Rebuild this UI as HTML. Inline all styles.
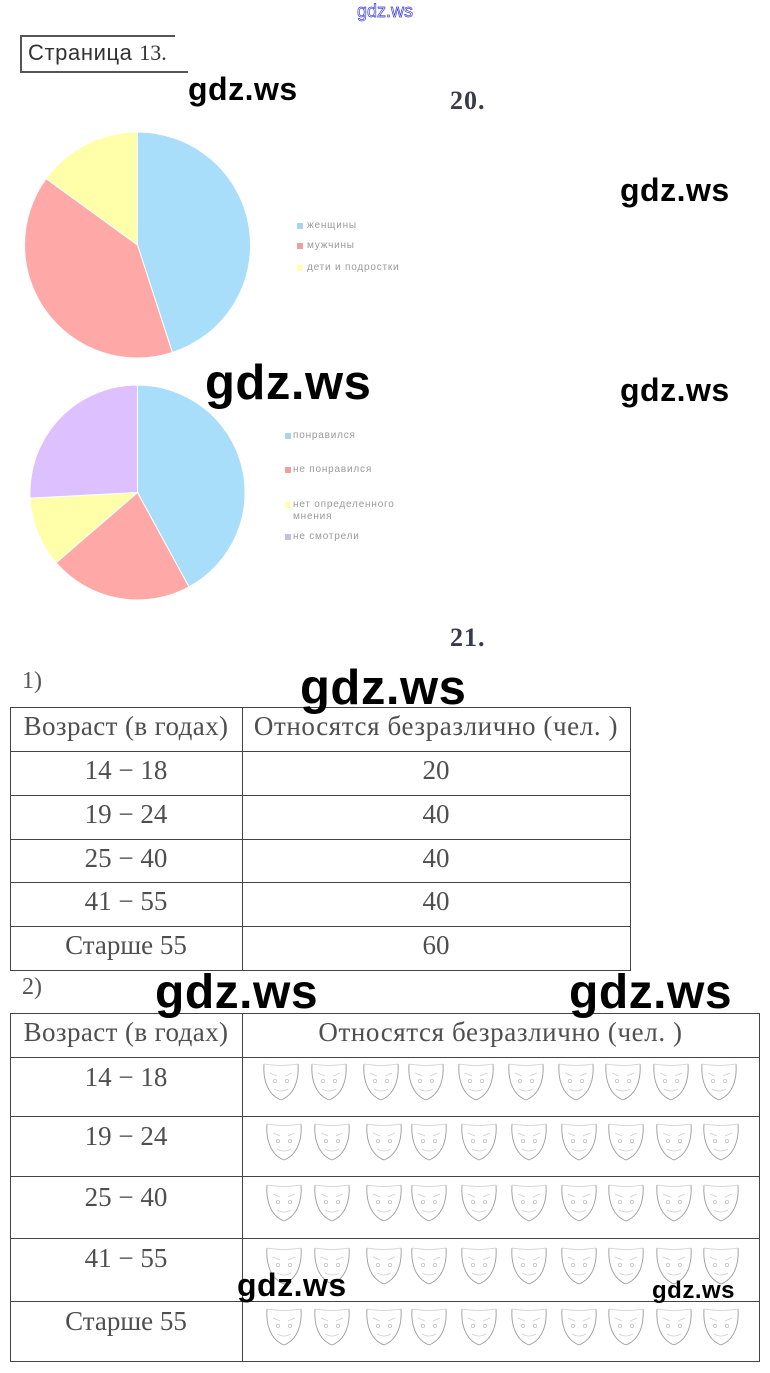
<!DOCTYPE html>
<html><head><meta charset="utf-8">
<style>
html,body{margin:0;padding:0;background:#fff;}
body{width:770px;height:1373px;position:relative;overflow:hidden;}
.a{position:absolute;white-space:nowrap;}
.wm{font-family:"Liberation Sans","DejaVu Sans",sans-serif;font-weight:bold;color:#000;line-height:1;letter-spacing:0.5px;}
.sf{font-family:"Liberation Serif","Noto Serif CJK SC",serif;color:#555;font-size:27px;}
.cell{position:absolute;height:44px;line-height:44px;text-align:center;white-space:nowrap;font-family:"Liberation Serif",serif;color:#4f4f4f;font-size:27px;}
.hl{position:absolute;height:1px;background:#444;}
.vl{position:absolute;width:1px;background:#444;}
.lg{position:absolute;font-family:"Liberation Sans","DejaVu Sans",sans-serif;font-size:10px;color:#9a9a9a;letter-spacing:0.8px;line-height:12px;white-space:nowrap;}
.sq{position:absolute;width:6px;height:6px;}
</style></head><body>

<!-- top small watermark -->
<div class="a" style="left:357px;top:2px;font-family:'Liberation Sans',sans-serif;font-size:18px;line-height:1;color:#fff;-webkit-text-stroke:0.7px #3b3bd6;">gdz.ws</div>

<!-- Страница box -->
<div class="a" style="left:20px;top:35px;width:155px;height:2px;background:#555;"></div>
<div class="a" style="left:20px;top:71px;width:168px;height:2px;background:#555;"></div>
<div class="a" style="left:20px;top:35px;width:2px;height:38px;background:#555;"></div>
<div class="a" style="left:28px;top:42px;font-family:'Liberation Sans',sans-serif;font-size:22px;line-height:1;color:#333;letter-spacing:0.6px;">Страница <span style="font-family:'Liberation Serif',serif;letter-spacing:0;">13.</span></div>

<div class="a wm" style="left:188px;top:73px;font-size:32px;">gdz.ws</div>
<div class="a" style="left:450px;top:88px;font-family:'Liberation Serif',serif;font-weight:bold;font-size:26px;line-height:1;color:#3a3a4a;letter-spacing:1px;">20.</div>
<div class="a wm" style="left:620px;top:174px;font-size:32px;">gdz.ws</div>

<!-- Pies -->
<svg class="a" style="left:0;top:0;" width="770" height="620" viewBox="0 0 770 620">
  <g stroke="#fff" stroke-width="1">
    <path d="M137.5,245 L137.5,132 A113,113 0 0 1 172.4,352.5 Z" fill="#a8defa"/>
    <path d="M137.5,245 L172.4,352.5 A113,113 0 0 1 46.1,178.6 Z" fill="#ffa8a8"/>
    <path d="M137.5,245 L46.1,178.6 A113,113 0 0 1 137.5,132 Z" fill="#ffffaa"/>
  </g>
  <g stroke="#fff" stroke-width="1">
    <path d="M137.5,492.5 L137.5,385 A107.5,107.5 0 0 1 189,586.9 Z" fill="#a8defa"/>
    <path d="M137.5,492.5 L189,586.9 A107.5,107.5 0 0 1 56.1,562.7 Z" fill="#ffa8a8"/>
    <path d="M137.5,492.5 L56.1,562.7 A107.5,107.5 0 0 1 30.1,498.1 Z" fill="#ffffaa"/>
    <path d="M137.5,492.5 L30.1,498.1 A107.5,107.5 0 0 1 137.5,385 Z" fill="#ddc0ff"/>
  </g>
</svg>

<!-- legend 1 -->
<div class="sq" style="left:297px;top:223px;background:#a9d4f0;"></div>
<div class="lg" style="left:307px;top:220px;">женщины</div>
<div class="sq" style="left:297px;top:243px;background:#eea0a0;"></div>
<div class="lg" style="left:307px;top:240px;">мужчины</div>
<div class="sq" style="left:297px;top:265px;background:#ffffb0;"></div>
<div class="lg" style="left:307px;top:262px;">дети и подростки</div>

<div class="a wm" style="left:205px;top:359px;font-size:49px;">gdz.ws</div>
<div class="a wm" style="left:620px;top:374px;font-size:32px;">gdz.ws</div>

<!-- legend 2 -->
<div class="sq" style="left:285px;top:433px;background:#a9d4f0;"></div>
<div class="lg" style="left:293px;top:430px;">понравился</div>
<div class="sq" style="left:285px;top:467px;background:#eea0a0;"></div>
<div class="lg" style="left:293px;top:464px;">не понравился</div>
<div class="sq" style="left:285px;top:502px;background:#ffffb0;"></div>
<div class="lg" style="left:293px;top:499px;">нет определенного<br>мнения</div>
<div class="sq" style="left:285px;top:534px;background:#c8bce8;"></div>
<div class="lg" style="left:293px;top:531px;">не смотрели</div>

<div class="a" style="left:450px;top:625px;font-family:'Liberation Serif',serif;font-weight:bold;font-size:26px;line-height:1;color:#3a3a4a;letter-spacing:1px;">21.</div>

<div class="a sf" style="left:22px;top:669px;font-size:24px;line-height:1;">1)</div>

<!-- Table 1 -->
<div class="hl" style="left:10px;top:707px;width:621px;"></div>
<div class="hl" style="left:10px;top:751px;width:621px;"></div>
<div class="hl" style="left:10px;top:795px;width:621px;"></div>
<div class="hl" style="left:10px;top:839px;width:621px;"></div>
<div class="hl" style="left:10px;top:882px;width:621px;"></div>
<div class="hl" style="left:10px;top:926px;width:621px;"></div>
<div class="hl" style="left:10px;top:970px;width:621px;"></div>
<div class="vl" style="left:10px;top:707px;height:264px;"></div>
<div class="vl" style="left:242px;top:707px;height:264px;"></div>
<div class="vl" style="left:630px;top:707px;height:264px;"></div>

<div class="cell" style="left:10px;width:232px;top:704px;letter-spacing:0.4px;">Возраст (в годах)</div>
<div class="cell" style="left:242px;width:388px;top:704px;letter-spacing:0.6px;">Относятся безразлично (чел. )</div>
<div class="cell" style="left:10px;width:232px;top:748px;">14 − 18</div>
<div class="cell" style="left:242px;width:388px;top:748px;">20</div>
<div class="cell" style="left:10px;width:232px;top:792px;">19 − 24</div>
<div class="cell" style="left:242px;width:388px;top:792px;">40</div>
<div class="cell" style="left:10px;width:232px;top:836px;">25 − 40</div>
<div class="cell" style="left:242px;width:388px;top:836px;">40</div>
<div class="cell" style="left:10px;width:232px;top:879px;">41 − 55</div>
<div class="cell" style="left:242px;width:388px;top:879px;">40</div>
<div class="cell" style="left:10px;width:232px;top:923px;">Старше 55</div>
<div class="cell" style="left:242px;width:388px;top:923px;">60</div>

<div class="a wm" style="left:300px;top:664px;font-size:49px;">gdz.ws</div>

<div class="a sf" style="left:22px;top:975px;font-size:24px;line-height:1;">2)</div>

<!-- Table 2 -->
<div class="hl" style="left:10px;top:1013px;width:750px;"></div>
<div class="hl" style="left:10px;top:1057px;width:750px;"></div>
<div class="hl" style="left:10px;top:1116px;width:750px;"></div>
<div class="hl" style="left:10px;top:1176px;width:750px;"></div>
<div class="hl" style="left:10px;top:1238px;width:750px;"></div>
<div class="hl" style="left:10px;top:1301px;width:750px;"></div>
<div class="hl" style="left:10px;top:1361px;width:750px;"></div>
<div class="vl" style="left:10px;top:1013px;height:349px;"></div>
<div class="vl" style="left:242px;top:1013px;height:349px;"></div>
<div class="vl" style="left:759px;top:1013px;height:349px;"></div>

<div class="cell" style="left:10px;width:232px;top:1010px;letter-spacing:0.4px;">Возраст (в годах)</div>
<div class="cell" style="left:242px;width:517px;top:1010px;letter-spacing:0.6px;">Относятся безразлично (чел. )</div>
<div class="cell" style="left:10px;width:232px;top:1055px;">14 − 18</div>
<div class="cell" style="left:10px;width:232px;top:1114px;">19 − 24</div>
<div class="cell" style="left:10px;width:232px;top:1175px;">25 − 40</div>
<div class="cell" style="left:10px;width:232px;top:1236px;">41 − 55</div>
<div class="cell" style="left:10px;width:232px;top:1299px;">Старше 55</div>

<!-- masks -->
<svg class="a" style="left:0;top:0;" width="770" height="1373" viewBox="0 0 770 1373">
  <defs>
    <g id="m">
      <path d="M2,1 C1,14 4,31 19,37" fill="none" stroke="#9a9a9a" stroke-width="0.9"/>
      <path d="M36,1 C37,14 34,31 19,37" fill="none" stroke="#9a9a9a" stroke-width="0.9"/>
      <path d="M2,1 Q19,4 36,1" fill="none" stroke="#cfcfcf" stroke-width="0.8"/>
      <path d="M8,10 L15,13 M30,10 L23,13" fill="none" stroke="#cfcfcf" stroke-width="0.8"/>
      <circle cx="13" cy="18" r="1.6" fill="none" stroke="#c4c4c4" stroke-width="0.8"/>
      <circle cx="25" cy="18" r="1.6" fill="none" stroke="#c4c4c4" stroke-width="0.8"/>
      <path d="M12,26 Q19,30 26,26" fill="none" stroke="#cfcfcf" stroke-width="0.8"/>
    </g>
  </defs>
  <g>
    <use href="#m" x="262" y="1063"/><use href="#m" x="310" y="1063"/><use href="#m" x="362" y="1063"/><use href="#m" x="407" y="1063"/><use href="#m" x="457" y="1063"/><use href="#m" x="507" y="1063"/><use href="#m" x="557" y="1063"/><use href="#m" x="604" y="1063"/><use href="#m" x="652" y="1063"/><use href="#m" x="700" y="1063"/>
    <use href="#m" x="265" y="1123"/><use href="#m" x="313" y="1123"/><use href="#m" x="365" y="1123"/><use href="#m" x="410" y="1123"/><use href="#m" x="460" y="1123"/><use href="#m" x="510" y="1123"/><use href="#m" x="560" y="1123"/><use href="#m" x="607" y="1123"/><use href="#m" x="655" y="1123"/><use href="#m" x="702" y="1123"/>
    <use href="#m" x="265" y="1184"/><use href="#m" x="313" y="1184"/><use href="#m" x="365" y="1184"/><use href="#m" x="410" y="1184"/><use href="#m" x="460" y="1184"/><use href="#m" x="510" y="1184"/><use href="#m" x="560" y="1184"/><use href="#m" x="607" y="1184"/><use href="#m" x="655" y="1184"/><use href="#m" x="702" y="1184"/>
    <use href="#m" x="265" y="1247"/><use href="#m" x="313" y="1247"/><use href="#m" x="365" y="1247"/><use href="#m" x="410" y="1247"/><use href="#m" x="460" y="1247"/><use href="#m" x="510" y="1247"/><use href="#m" x="560" y="1247"/><use href="#m" x="607" y="1247"/><use href="#m" x="655" y="1247"/><use href="#m" x="702" y="1247"/>
    <use href="#m" x="265" y="1308"/><use href="#m" x="313" y="1308"/><use href="#m" x="365" y="1308"/><use href="#m" x="410" y="1308"/><use href="#m" x="460" y="1308"/><use href="#m" x="510" y="1308"/><use href="#m" x="560" y="1308"/><use href="#m" x="607" y="1308"/><use href="#m" x="655" y="1308"/><use href="#m" x="702" y="1308"/>
  </g>
</svg>

<div class="a wm" style="left:155px;top:969px;font-size:48px;">gdz.ws</div>
<div class="a wm" style="left:569px;top:969px;font-size:48px;">gdz.ws</div>
<div class="a wm" style="left:237px;top:1269px;font-size:32px;">gdz.ws</div>
<div class="a wm" style="left:652px;top:1279px;font-size:24px;">gdz.ws</div>

</body></html>
